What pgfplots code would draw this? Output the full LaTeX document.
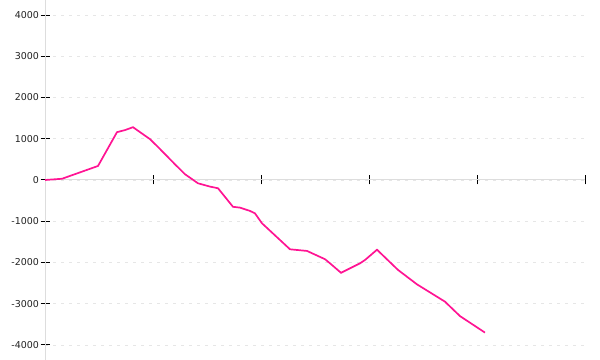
\documentclass[border=0pt]{standalone}
\usepackage{fontspec}
\setmainfont{DejaVu Sans}
\usepackage{pgfplots}
\pgfplotsset{compat=1.18}
\definecolor{linepink}{HTML}{FF1493}
\definecolor{axgray}{HTML}{DDDDDD}
\definecolor{gridgray}{HTML}{E6E6E6}
\definecolor{txt}{HTML}{222222}
\begin{document}
\begin{tikzpicture}
\useasboundingbox (0,0) rectangle (600bp,360bp);
\begin{axis}[
  at={(45bp,0bp)}, anchor=south west,
  scale only axis, width=540bp, height=360bp,
  xmin=0, xmax=540,
  ymin=-4364, ymax=4364,
  axis x line=middle, axis y line=left,
  axis line style={-, draw=axgray, line width=1bp},
  xtick={0,108,216,324,432,540}, xticklabels={},
  ytick={-4000,-3000,-2000,-1000,0,1000,2000,3000,4000},
  tick align=center, major tick length=9bp,
  tick style={black, line width=1bp},
  ymajorgrids,
  grid style={gridgray, dash pattern=on 3bp off 5bp, line width=0.8bp},
  /pgf/number format/assume math mode=true,
  /pgf/number format/1000 sep={},
  yticklabel style={font=\fontsize{9.5}{10}\selectfont, text=txt, xshift=2bp},
  clip=false,
]
\addplot[linepink, line width=1.7bp] coordinates {
(0,0) (17,30) (53,340) (72,1160) (80,1210) (88,1280) (105,990) (113,800)
(130,380) (140,140) (153,-80) (165,-160) (173,-200) (188,-650) (195,-670)
(205,-750) (210,-810) (217,-1050) (245,-1680) (262,-1720) (280,-1920)
(285,-2020) (296,-2250) (315,-2020) (320,-1940) (332,-1690) (353,-2180)
(372,-2530) (400,-2950) (415,-3300) (440,-3700)
};
\end{axis}
\end{tikzpicture}
\end{document}
